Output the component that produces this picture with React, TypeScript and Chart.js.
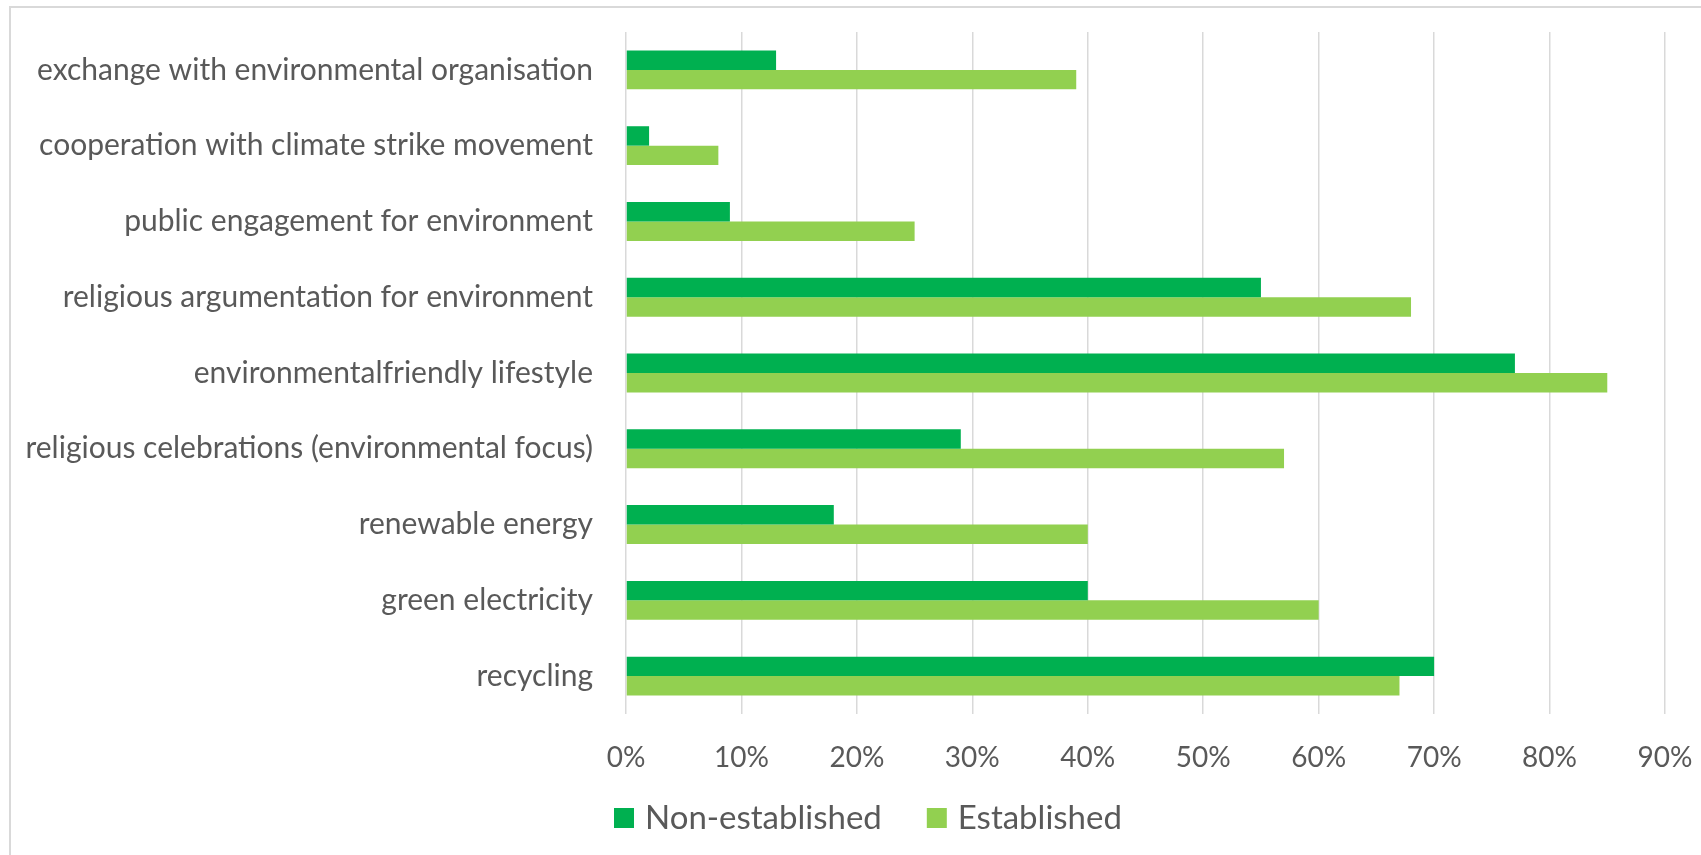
import { useEffect, useRef } from "react";
import { Chart, registerables } from "chart.js";

Chart.register(...registerables);

const categories = [
  "exchange with environmental organisation",
  "cooperation with climate strike movement",
  "public engagement for environment",
  "religious argumentation for environment",
  "environmentalfriendly lifestyle",
  "religious celebrations (environmental focus)",
  "renewable energy",
  "green electricity",
  "recycling",
];
const nonEstablished = [13, 2, 9, 55, 77, 29, 18, 40, 70];
const established = [39, 8, 25, 68, 85, 57, 40, 60, 67];
const seriesNames = ["Non-established", "Established"];
const seriesColors = ["#00B050", "#92D050"];
const xMin = 0;
const xMax = 90;
const xStep = 10;

const FONT = "Lato";
const TEXT = "#595959";

const legendPlugin = {
  id: "customLegend",
  afterDraw(chart: any) {
    const ctx = chart.ctx;
    ctx.save();
    ctx.font = `33px ${FONT}`;
    ctx.textBaseline = "middle";
    ctx.textAlign = "left";
    let x = 614;
    const cy = 818;
    chart.data.datasets.forEach((ds: any) => {
      ctx.fillStyle = ds.backgroundColor;
      ctx.fillRect(x, cy - 10, 20, 20);
      ctx.fillStyle = TEXT;
      ctx.fillText(ds.label, x + 31, cy);
      x += 31 + ctx.measureText(ds.label).width + 45;
    });
    ctx.restore();
  },
};

export default function App() {
  const ref = useRef<HTMLCanvasElement | null>(null);
  useEffect(() => {
    if (!ref.current) return;
    const chart = new Chart(ref.current, {
      type: "bar",
      data: {
        labels: categories,
        datasets: [
          { label: seriesNames[0], data: nonEstablished, backgroundColor: seriesColors[0] },
          { label: seriesNames[1], data: established, backgroundColor: seriesColors[1] },
        ],
      },
      options: {
        indexAxis: "y",
        animation: false,
        responsive: false,
        maintainAspectRatio: false,
        layout: { padding: { top: 32, right: 36, bottom: 0, left: 0 } },
        datasets: { bar: { categoryPercentage: 0.513, barPercentage: 1.0 } },
        plugins: { legend: { display: false }, tooltip: { enabled: false } },
        scales: {
          x: {
            min: xMin,
            max: xMax,
            grid: { color: "#d9d9d9", lineWidth: 1.5, drawTicks: false },
            border: { display: false },
            ticks: {
              stepSize: xStep,
              color: TEXT,
              font: { family: FONT, size: 28 },
              padding: 27,
              callback: (v: any) => `${v}%`,
            },
            afterFit: (s: any) => {
              s.height = 141;
              s.paddingLeft = 0;
              s.paddingRight = 0;
            },
          },
          y: {
            grid: { display: false, drawTicks: false },
            border: { display: false },
            ticks: {
              color: TEXT,
              font: { family: FONT, size: 30 },
              padding: 33,
            },
            afterFit: (s: any) => {
              s.width = 626;
              s.paddingTop = 0;
              s.paddingBottom = 0;
            },
          },
        },
      },
      plugins: [legendPlugin],
    });
    return () => chart.destroy();
  }, []);

  return (
    <div style={{ position: "absolute", left: 0, top: 0, width: 1701, height: 855, overflow: "hidden", background: "#fff" }}>
      <div
        style={{
          position: "absolute",
          left: 9,
          top: 6,
          width: 3000,
          height: 3000,
          borderTop: "2px solid #d9d9d9",
          borderLeft: "2px solid #d9d9d9",
        }}
      />
      <canvas ref={ref} width={1701} height={855} style={{ position: "absolute", left: 0, top: 0 }} />
    </div>
  );
}
